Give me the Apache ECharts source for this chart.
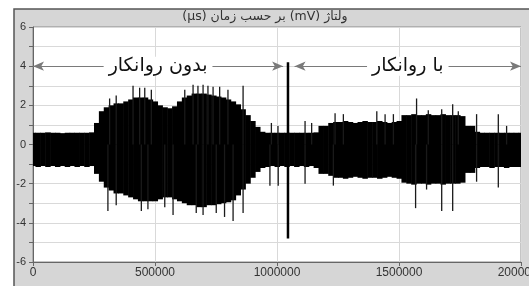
<!DOCTYPE html>
<html>
<head>
<meta charset="utf-8">
<script src="https://cdn.jsdelivr.net/npm/echarts@6/dist/echarts.min.js"></script>
<style>
html,body{margin:0;padding:0;background:#fff;}
#chart{width:529px;height:286px;}
</style>
</head>
<body>
<div id="chart"></div>
<script>
// ---- data ----
const titleText = 'ولتاژ (mV) بر حسب زمان (µs)';
const labelWithout = 'بدون روانکار';
const labelWith = 'با روانکار';

const xTicks = [0, 500000, 1000000, 1500000, 2000000];
const yTicks = [-6, -4, -2, 0, 2, 4, 6];

// envelope of the signal (µs, mV)
const timeUs = [0,20000,40000,60000,80000,100000,120000,140000,160000,180000,
  200000,220000,240000,260000,280000,300000,320000,340000,360000,380000,
  400000,420000,440000,460000,480000,500000,520000,540000,560000,580000,
  600000,620000,640000,660000,680000,700000,720000,740000,760000,780000,
  800000,820000,840000,860000,880000,900000,920000,940000,960000,980000,
  1000000,1020000,1040000,1060000,1080000,1100000,1120000,1140000,1160000,1180000,
  1200000,1220000,1240000,1260000,1280000,1300000,1320000,1340000,1360000,1380000,
  1400000,1420000,1440000,1460000,1480000,1500000,1520000,1540000,1560000,1580000,
  1600000,1620000,1640000,1660000,1680000,1700000,1720000,1740000,1760000,1780000,
  1800000,1820000,1840000,1860000,1880000,1900000,1920000,1940000,1960000,1980000,2000000];
const upperMv = [0.6,0.6,0.6,0.62,0.6,0.6,0.58,0.6,0.6,0.6,
  0.6,0.6,0.62,1.1,1.7,1.9,2.0,2.1,2.1,2.2,
  2.3,2.4,2.4,2.4,2.3,2.2,2.0,1.9,1.85,1.95,
  2.2,2.4,2.5,2.6,2.6,2.6,2.55,2.5,2.45,2.4,
  2.3,2.2,2.05,1.8,1.5,1.2,0.9,0.65,0.6,0.6,
  0.6,0.6,0.6,0.6,0.6,0.6,0.6,0.6,0.62,0.95,
  0.95,1.1,1.15,1.15,1.2,1.15,1.1,1.15,1.2,1.15,
  1.15,1.2,1.15,1.1,1.15,1.2,1.5,1.5,1.55,1.5,
  1.5,1.55,1.5,1.5,1.55,1.5,1.5,1.5,1.45,0.95,
  0.95,0.65,0.6,0.6,0.6,0.6,0.6,0.6,0.6,0.6,0.6];
const lowerMv = [-1.1,-1.15,-1.1,-1.15,-1.1,-1.15,-1.1,-1.15,-1.1,-1.15,
  -1.1,-1.15,-1.1,-1.5,-1.9,-2.2,-2.35,-2.5,-2.5,-2.6,
  -2.7,-2.8,-2.9,-2.9,-2.9,-2.9,-2.8,-2.7,-2.7,-2.8,
  -2.9,-3.0,-3.1,-3.1,-3.2,-3.2,-3.1,-3.1,-3.05,-3.0,
  -2.95,-2.85,-2.6,-2.3,-2.0,-1.7,-1.4,-1.2,-1.15,-1.1,
  -1.15,-1.1,-1.15,-1.1,-1.15,-1.1,-1.15,-1.1,-1.2,-1.5,
  -1.5,-1.6,-1.7,-1.7,-1.75,-1.7,-1.65,-1.7,-1.75,-1.7,
  -1.7,-1.75,-1.7,-1.65,-1.7,-1.75,-1.95,-2.0,-2.05,-2.0,
  -2.0,-2.05,-2.0,-2.0,-2.05,-2.0,-2.0,-2.0,-1.95,-1.45,
  -1.45,-1.2,-1.15,-1.15,-1.2,-1.15,-1.15,-1.2,-1.15,-1.15,-1.15];

// isolated peaks above / below the envelope
const spikeUpX = [314000,341000,410000,437000,458000,485000,622000,656000,676000,697000,
  717000,738000,765000,799000,861000,977000,1004000,1115000,1142000,1238000,
  1272000,1409000,1443000,1477000,1572000,1620000,1675000,1720000,1743000,1818000,1907000,1941000];
const spikeUpMv = [2.35,2.5,3.0,2.9,2.9,2.8,2.8,3.05,3.0,3.05,
  3.0,2.95,2.95,2.8,3.0,1.1,0.95,1.2,1.1,1.6,
  1.55,1.7,1.55,1.55,2.35,1.75,1.8,2.05,1.7,1.55,1.55,0.95];
const spikeDownX = [307000,341000,444000,471000,540000,574000,669000,697000,751000,785000,
  820000,861000,971000,1005000,1115000,1231000,1568000,1613000,1675000,1720000,1818000,1907000];
const spikeDownMv = [-3.4,-3.1,-3.4,-3.3,-3.2,-3.6,-3.5,-3.6,-3.5,-3.7,
  -3.9,-3.5,-2.1,-2.1,-2.0,-2.1,-3.25,-2.3,-3.4,-3.4,-1.9,-2.2];

// marker separating the two runs
const markerX = 1045000;
const markerTop = 4.2;
const markerBottom = -4.8;
const arrowLevel = 4;
const arrowWithout = [0, 1025000];
const arrowWith = [1072000, 2000000];

// ---- chart ----
const chart = echarts.init(document.getElementById('chart'), null, {renderer: 'canvas'});
const bandStep = 20000;
const bandData = timeUs.map((t, i) => [t, upperMv[i], lowerMv[i]]);
const upData = spikeUpX.map((t, i) => [t, spikeUpMv[i]]);
const downData = spikeDownX.map((t, i) => [t, spikeDownMv[i]]);

const spikeRender = function (params, api) {
  const x = api.value(0), v = api.value(1);
  const a = api.coord([x, 0]);
  const b = api.coord([x, v]);
  return {type: 'line', shape: {x1: a[0], y1: a[1], x2: b[0], y2: b[1]},
    style: {stroke: '#1a1a1a', lineWidth: 1.3}};
};

const fontAxis = 'Liberation Sans, Arial, sans-serif';
const fontFa = 'DejaVu Sans, sans-serif';
const faLabel = {show: true, position: 'inside', color: '#111', fontSize: 19, fontFamily: fontFa,
  backgroundColor: '#ffffff', padding: [0, 5]};

chart.setOption({
  animation: false,
  backgroundColor: '#ffffff',
  graphic: [
    {type: 'rect', z: -100, shape: {x: 14, y: 9, width: 530, height: 290},
     style: {fill: '#d6d6d6', stroke: '#555555', lineWidth: 1.5}},
    {type: 'text', z: 10, x: 265, y: 17,
     style: {text: '\u202B' + titleText + '\u202C', fill: '#333333', font: '12.5px ' + fontFa,
       textAlign: 'center', textVerticalAlign: 'middle'}}
  ],
  grid: {left: 33, right: 8, top: 27, bottom: 24, show: true, outerBoundsMode: 'none', containLabel: false,
    backgroundColor: '#ffffff', borderColor: '#8a8a8a', borderWidth: 1},
  xAxis: {
    type: 'value', min: xTicks[0], max: xTicks[xTicks.length - 1], interval: 500000,
    axisLine: {show: true, onZero: false, lineStyle: {color: '#666', width: 1}},
    axisTick: {show: true, length: 4, lineStyle: {color: '#666'}},
    axisLabel: {color: '#333', fontSize: 12, fontFamily: fontAxis, margin: 5, hideOverlap: false,
      formatter: v => xTicks.includes(v) ? String(v) : ''},
    splitLine: {show: true, lineStyle: {color: '#d9d9d9', width: 1}}
  },
  yAxis: {
    type: 'value', min: -6, max: 6, interval: 1,
    axisLine: {show: true, onZero: false, lineStyle: {color: '#666', width: 1}},
    axisTick: {show: true, length: 4, lineStyle: {color: '#666'}},
    axisLabel: {color: '#333', fontSize: 11, fontFamily: fontAxis, margin: 7,
      formatter: v => yTicks.includes(v) ? String(v) : ''},
    splitLine: {show: true, lineStyle: {color: '#d9d9d9', width: 1}}
  },
  series: [
    {
      type: 'custom', name: 'band', clip: true, data: bandData,
      encode: {x: 0, y: [1, 2]},
      renderItem: function (params, api) {
        const x = api.value(0);
        const top = api.coord([x, api.value(1)]);
        const bot = api.coord([x, api.value(2)]);
        const w = api.size([bandStep, 0])[0];
        return {type: 'rect', shape: {x: top[0] - w / 2, y: top[1], width: w + 0.6, height: bot[1] - top[1]},
          style: {fill: '#000000'}};
      }
    },
    {type: 'custom', name: 'up', clip: true, data: upData, encode: {x: 0, y: 1}, renderItem: spikeRender},
    {type: 'custom', name: 'down', clip: true, data: downData, encode: {x: 0, y: 1}, renderItem: spikeRender},
    {
      type: 'line', name: 'marker', symbol: 'none',
      data: [[markerX, markerBottom], [markerX, markerTop]],
      lineStyle: {color: '#000', width: 2.5},
      markLine: {
        silent: true, symbol: ['arrow', 'arrow'], symbolSize: [7, 11],
        lineStyle: {color: '#7a7a7a', width: 1, type: 'solid'},
        label: {show: false},
        data: [
          [{coord: [arrowWithout[0], arrowLevel]}, {coord: [arrowWithout[1], arrowLevel]}],
          [{coord: [arrowWith[0], arrowLevel]}, {coord: [arrowWith[1], arrowLevel]}]
        ]
      },
      markPoint: {
        silent: true, symbol: 'rect', symbolSize: 1, itemStyle: {color: 'rgba(0,0,0,0)'},
        label: faLabel,
        data: [
          {coord: [(arrowWithout[0] + arrowWithout[1]) / 2, arrowLevel], label: {formatter: labelWithout}},
          {coord: [(arrowWith[0] + arrowWith[1]) / 2, arrowLevel], label: {formatter: labelWith}}
        ]
      }
    }
  ]
});
</script>
</body>
</html>
